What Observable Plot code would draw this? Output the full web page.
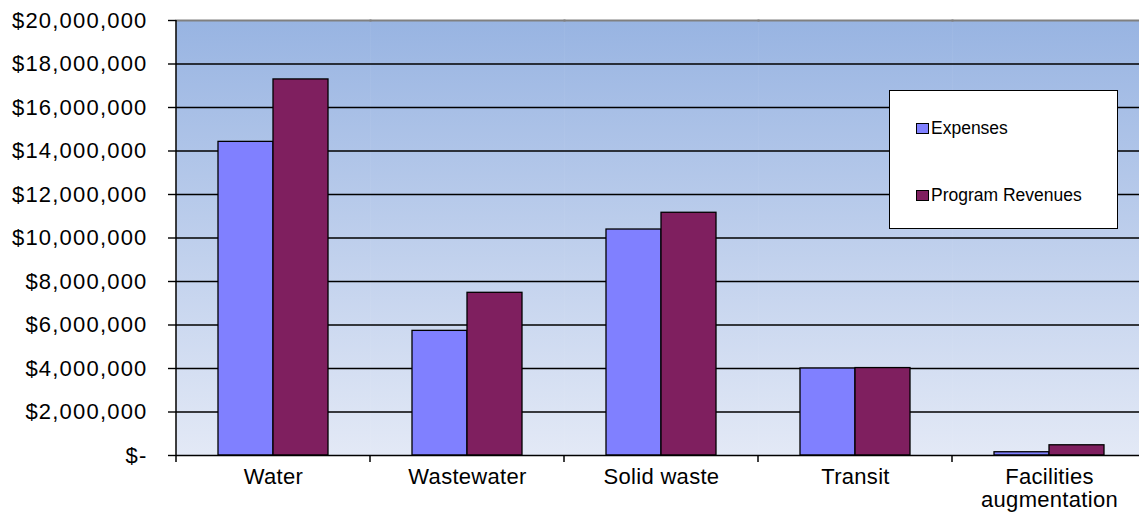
<!DOCTYPE html>
<html>
<head>
<meta charset="utf-8">
<script src="https://cdn.jsdelivr.net/npm/d3@7"></script>
<script src="https://cdn.jsdelivr.net/npm/@observablehq/plot@0.6"></script>
<style>
  html, body { margin: 0; padding: 0; background: #fff; overflow: hidden; }
  #wrap { position: relative; width: 1139px; height: 514px; overflow: hidden; }
  #chart svg { display: block; max-width: none !important; }
  g[aria-label="y-axis tick label"] text { letter-spacing: 1.2px; }
  g[aria-label="fx-axis tick label"] text { letter-spacing: 0.3px; }
  #legend {
    position: absolute; left: 889px; top: 90px; width: 227px; height: 137px;
    background: #fff; border: 1.5px solid #000;
    font-family: "Liberation Sans", Arial, sans-serif; font-size: 17.5px; color: #000;
  }
  .item { position: absolute; left: 26px; display: flex; align-items: center; }
  .sw { width: 11px; height: 9px; border: 1.2px solid #000; margin-right: 2px; }
</style>
</head>
<body>
<div id="wrap">
  <div id="chart"></div>
  <div id="legend"></div>
</div>
<script>
const categories = ["Water", "Wastewater", "Solid waste", "Transit", "Facilities augmentation"];
const seriesNames = ["Expenses", "Program Revenues"];
const expenses = [14420000, 5730000, 10390000, 4000000, 150000];
const revenues = [17290000, 7480000, 11160000, 4020000, 470000];
const yTicks = [0, 2000000, 4000000, 6000000, 8000000, 10000000, 12000000, 14000000, 16000000, 18000000, 20000000];
const seriesColors = ["#8080ff", "#7f1f5f"];
const categoryLabels = ["Water", "Wastewater", "Solid waste", "Transit", "Facilities\naugmentation"];

const data = categories.flatMap((c, i) => [
  {category: c, series: seriesNames[0], value: expenses[i]},
  {category: c, series: seriesNames[1], value: revenues[i]}
]);

const fmt = d3.format(",");
const chart = Plot.plot({
  width: 1146,
  height: 514,
  marginLeft: 176,
  marginRight: 0,
  marginTop: 20,
  marginBottom: 59,
  style: {fontFamily: "'Liberation Sans', Arial, sans-serif", fontSize: "22px", color: "#000", background: "transparent", maxWidth: "none"},
  fx: {domain: categories, padding: 0, label: null, axis: null, round: false},
  x: {domain: seriesNames, paddingInner: 0, paddingOuter: 0.7636, axis: null, round: false},
  y: {domain: [0, 20000000], axis: null},
  color: {domain: seriesNames, range: seriesColors},
  marks: [
    Plot.frame({fill: "url(#bgGrad)", stroke: "url(#bgGrad)", strokeWidth: 0.6}),
    Plot.ruleY(yTicks.filter(d => d > 0 && d < 20000000), {stroke: "#000", strokeWidth: 1.4}),
    Plot.barY(data, {fx: "category", x: "series", y: "value", fill: "series", stroke: "#000", strokeWidth: 1.3}),
    Plot.ruleY([0], {stroke: "#000", strokeWidth: 1.5}),
    Plot.frame({anchor: "top", stroke: "#808080", strokeWidth: 2}),
    Plot.axisY(yTicks, {
      tickFormat: d => d === 0 ? "$-" : "$" + fmt(d),
      tickSize: 8, tickPadding: 21, strokeWidth: 1.4, stroke: "#000", fontSize: 22, label: null
    }),
    Plot.axisFx({
      anchor: "bottom",
      tickSize: 0, tickPadding: 12, fontSize: 22, lineHeight: 1.05, label: null,
      tickFormat: d => categoryLabels[categories.indexOf(d)]
    })
  ]
});

document.getElementById("chart").appendChild(chart);

// gradient for plot background
const svg = d3.select(chart);
const grad = svg.insert("defs", ":first-child").append("linearGradient")
  .attr("id", "bgGrad").attr("x1", 0).attr("y1", 0).attr("x2", 0).attr("y2", 1);
grad.append("stop").attr("offset", "0%").attr("stop-color", "#98b4e2");
grad.append("stop").attr("offset", "100%").attr("stop-color", "#e3e9f6");

// left axis line and category boundary ticks, positioned from Plot's own scales
const fxs = chart.scale("fx");
const ys = chart.scale("y");
const y0 = ys.apply(0), yTop = ys.apply(20000000);
const g = svg.append("g").attr("stroke", "#000").attr("stroke-width", 1.5);
const x0 = fxs.apply(categories[0]);
g.append("line").attr("x1", x0).attr("x2", x0).attr("y1", yTop).attr("y2", y0 + 7);
categories.slice(1).forEach(c => {
  const xb = fxs.apply(c);
  g.append("line").attr("x1", xb).attr("x2", xb).attr("y1", y0).attr("y2", y0 + 7);
});

// legend
const legend = document.getElementById("legend");
const tops = [27, 94];
seriesNames.forEach((s, i) => {
  const item = document.createElement("div");
  item.className = "item";
  item.style.top = tops[i] + "px";
  const sw = document.createElement("span");
  sw.className = "sw";
  sw.style.background = seriesColors[i];
  const t = document.createElement("span");
  t.textContent = s;
  item.appendChild(sw); item.appendChild(t);
  legend.appendChild(item);
});
</script>
</body>
</html>
